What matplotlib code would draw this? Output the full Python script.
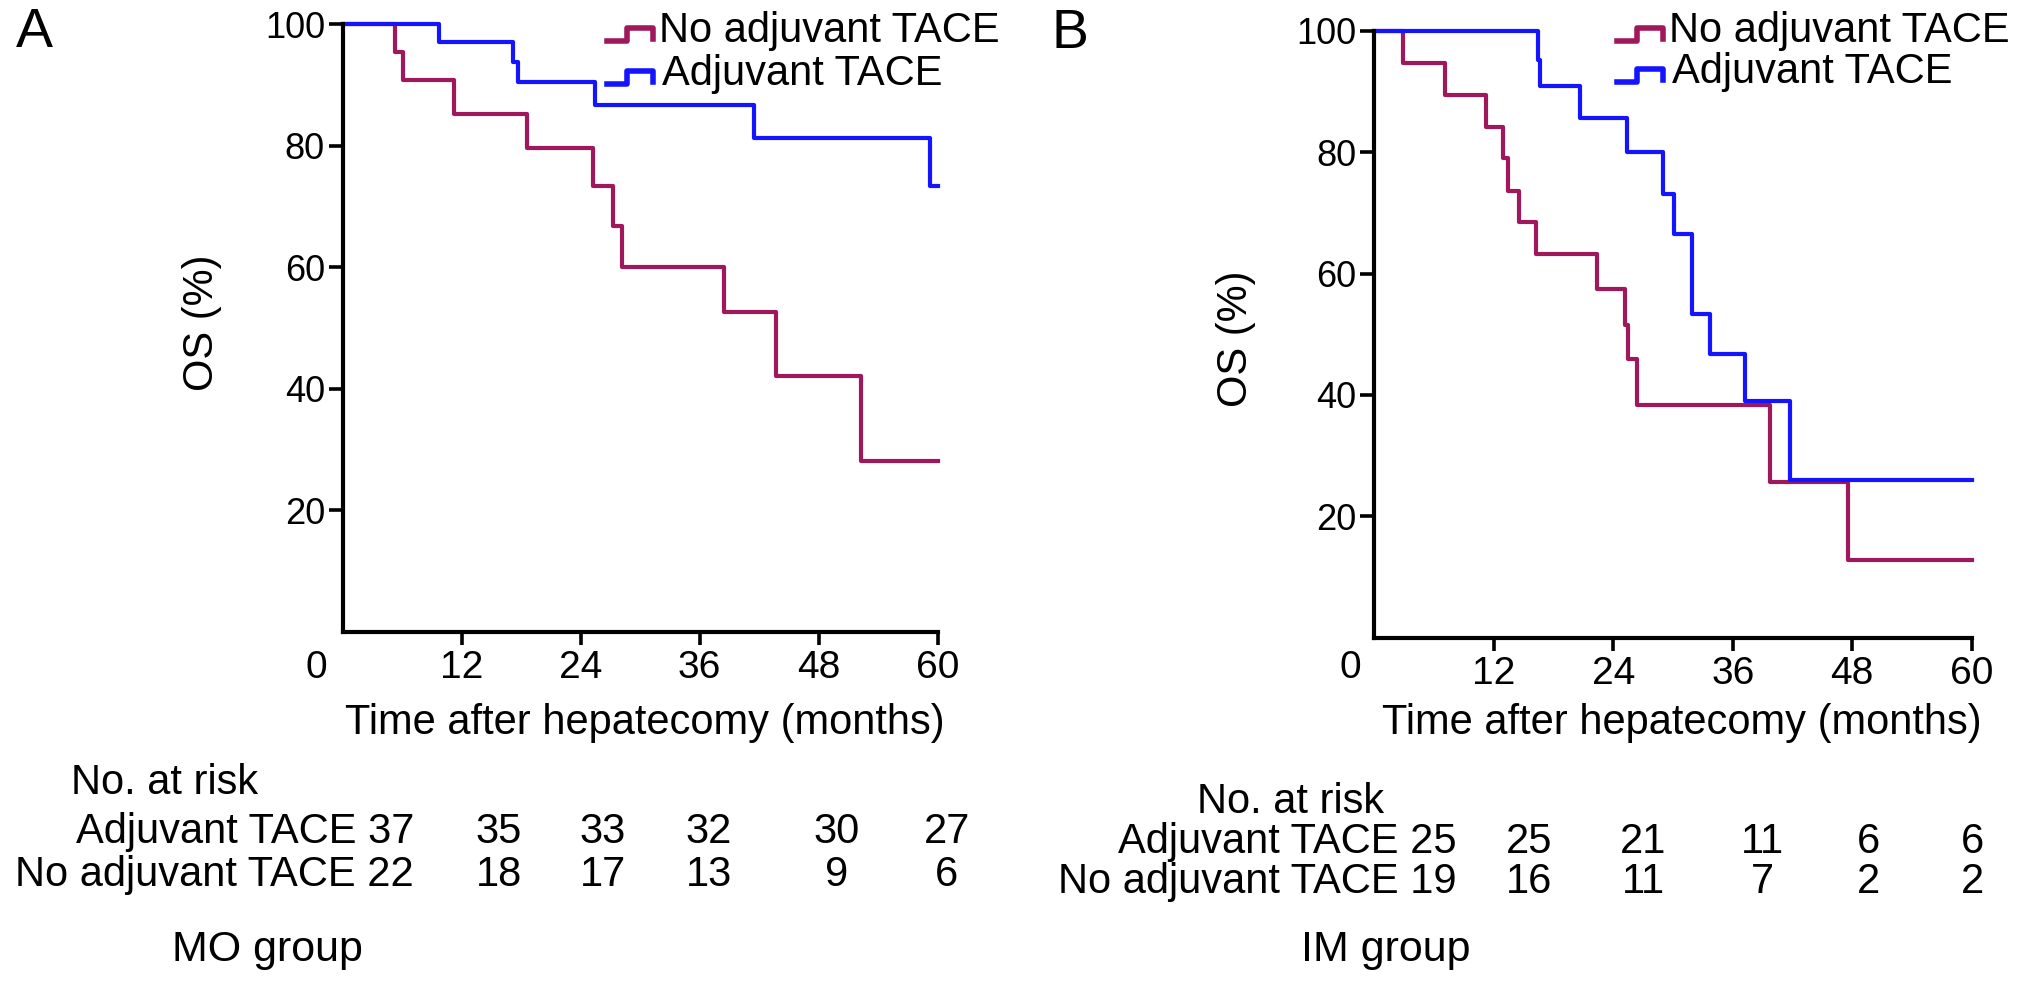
import matplotlib
matplotlib.use("Agg")
import matplotlib.pyplot as plt
from matplotlib.lines import Line2D

# Figure size in pixels (saved at dpi 100)
W, H = 2031, 986

# Panel A (MO group) Kaplan-Meier steps
a_no_t = [0, 5.2, 6.1, 11.2, 18.6, 25.2, 27.2, 28.2, 38.5, 43.7, 52.3, 60]
a_no_s = [100, 95.4, 90.8, 85.2, 79.6, 73.4, 66.7, 60.0, 52.6, 42.1, 28.2,
          28.2]
a_adj_t = [0, 9.7, 17.2, 17.7, 25.4, 41.45, 59.2, 60]
a_adj_s = [100, 97.1, 93.8, 90.4, 86.7, 81.2, 73.3, 73.3]

# Panel B (IM group) Kaplan-Meier steps
b_no_t = [0, 2.9, 7.1, 11.2, 12.9, 13.4, 14.5, 16.2, 22.4, 25.2, 25.5, 26.4,
          39.7, 47.6, 60]
b_no_s = [100, 94.7, 89.5, 84.2, 79.0, 73.6, 68.5, 63.2, 57.4, 51.6, 46.0,
          38.3, 25.6, 12.7, 12.7]
b_adj_t = [0, 16.4, 16.6, 20.7, 25.4, 29.0, 30.1, 31.9, 33.7, 37.2, 41.8, 60]
b_adj_s = [100, 95.3, 91.0, 85.7, 80.0, 73.2, 66.5, 53.3, 46.8, 39.0, 26.0,
           26.0]

# Numbers at risk
a_risk_adj = [37, 35, 33, 32, 30, 27]
a_risk_no = [22, 18, 17, 13, 9, 6]
b_risk_adj = [25, 25, 21, 11, 6, 6]
b_risk_no = [19, 16, 11, 7, 2, 2]

x_ticks = [12, 24, 36, 48, 60]
y_ticks = [20, 40, 60, 80, 100]

RED = "#a0185c"
BLUE = "#1414ff"
FS = 30


def fx(px):
    """Pixel x -> figure fraction."""
    return px / W


def fy(py):
    """Pixel y (from top) -> figure fraction."""
    return 1 - py / H


def style_axes(ax):
    """GraphPad-like axes: left and bottom spines, outward ticks."""
    for side in ["top", "right"]:
        ax.spines[side].set_visible(False)
    for side in ["left", "bottom"]:
        ax.spines[side].set_linewidth(3.0)
    ax.set_xlim(0, 60)
    ax.set_ylim(0, 100)
    ax.set_xticks(x_ticks)
    ax.set_yticks(y_ticks)
    ax.tick_params(axis="x", length=9, width=2.6, labelsize=28, pad=4)
    ax.tick_params(axis="y", length=10, width=2.6, labelsize=26, pad=3)


def legend_icon(fig, x0, yt, color):
    """Small step-shaped legend symbol, drawn in pixel positions."""
    xs = [x0, x0 + 20, x0 + 20, x0 + 46, x0 + 46]
    ys = [yt + 8, yt + 8, yt - 5, yt - 5, yt + 6]
    fig.add_artist(Line2D([fx(x) for x in xs], [fy(y) for y in ys],
                          color=color, lw=4.0, transform=fig.transFigure))


def panel(fig, ax, no_t, no_s, adj_t, adj_s, lay):
    """Draws one survival panel with its texts."""
    style_axes(ax)
    ax.step(no_t, no_s, where="post", color=RED, lw=3.0, clip_on=False)
    ax.step(adj_t, adj_s, where="post", color=BLUE, lw=3.0, clip_on=False)

    # Origin label, labels of axes and panel letter
    fig.text(fx(lay["zero"]), fy(668), "0", fontsize=28,
             ha="center", va="center")
    fig.text(fx(lay["xlab"]), fy(723), "Time after hepatecomy (months)",
             fontsize=FS, ha="center", va="center")
    fig.text(fx(lay["ylab"][0]), fy(lay["ylab"][1]), "OS (%)", fontsize=FS,
             rotation=90, ha="center", va="center")
    fig.text(fx(lay["letter"][0]), fy(lay["letter"][1]), lay["name"],
             fontsize=40, ha="center", va="center")

    # Legend
    legend_icon(fig, lay["leg"], lay["leg_y"][0] + 2, RED)
    legend_icon(fig, lay["leg"], lay["leg_y"][1] + 2, BLUE)
    fig.text(fx(lay["leg"] + 52), fy(lay["leg_y"][0]), "No adjuvant TACE",
             fontsize=FS, ha="left", va="center")
    fig.text(fx(lay["leg"] + 55), fy(lay["leg_y"][1]), "Adjuvant TACE",
             fontsize=FS, ha="left", va="center")


def risk_table(fig, adj, no, lay):
    """Writes the number-at-risk table below a panel."""
    fig.text(fx(lay["head"][0]), fy(lay["head"][1]), "No. at risk",
             fontsize=FS, ha="left", va="center")
    rows = [("Adjuvant TACE", adj, lay["rows"][0]),
            ("No adjuvant TACE", no, lay["rows"][1])]
    for label, vals, y in rows:
        fig.text(fx(lay["right"]), fy(y), f"{label} {vals[0]}",
                 fontsize=FS, ha="right", va="center")
        for v, x in zip(vals[1:], lay["cols"]):
            fig.text(fx(x), fy(y), str(v), fontsize=FS,
                     ha="center", va="center")
    fig.text(fx(lay["group"][0]), fy(950), lay["group"][1], fontsize=31,
             ha="left", va="center")


def main():
    plt.rcParams["font.family"] = ["Liberation Sans", "DejaVu Sans"]
    fig = plt.figure(figsize=(W / 100, H / 100), dpi=100)

    ax_a = fig.add_axes([fx(343), fy(632), fx(937.5 - 343), (632 - 24) / H])
    ax_b = fig.add_axes([fx(1374.3), fy(637.5), fx(1971.7 - 1374.3),
                         (637.5 - 31) / H])

    panel(fig, ax_a, a_no_t, a_no_s, a_adj_t, a_adj_s,
          {"zero": 316, "xlab": 645, "ylab": (202, 323),
           "letter": (34, 33), "name": "A", "leg": 607, "leg_y": (31, 74)})
    panel(fig, ax_b, b_no_t, b_no_s, b_adj_t, b_adj_s,
          {"zero": 1350, "xlab": 1682, "ylab": (1236, 339),
           "letter": (1070, 34), "name": "B", "leg": 1617,
           "leg_y": (31, 72)})

    risk_table(fig, a_risk_adj, a_risk_no,
               {"head": (71, 783), "rows": (832, 875), "right": 414,
                "cols": [499, 603, 709, 837, 947], "group": (172, "MO group")})
    risk_table(fig, b_risk_adj, b_risk_no,
               {"head": (1197, 802), "rows": (842, 882), "right": 1457,
                "cols": [1529, 1643, 1762, 1869, 1973],
                "group": (1301, "IM group")})

    fig.savefig("out.png", dpi=100)


if __name__ == "__main__":
    main()
